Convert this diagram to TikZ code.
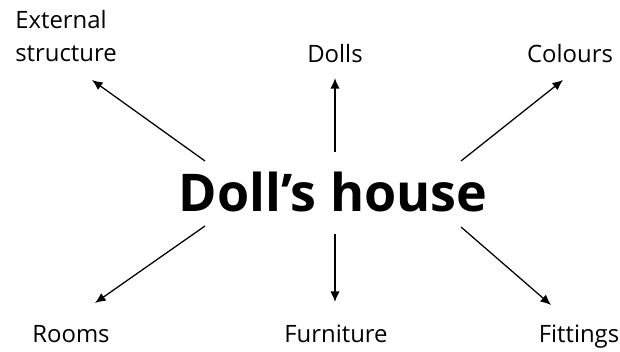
\documentclass[tikz,border=0pt]{standalone}
\usepackage{fontspec}
\setmainfont{Open Sans}
\usetikzlibrary{arrows.meta}

\begin{document}
\begin{tikzpicture}[x=0.025cm,y=-0.025cm,>={Latex[length=7.5pt,width=6.5pt]},
  lbl/.style={font=\fontsize{17}{23.5}\selectfont,inner sep=0pt,anchor=base},
  arr/.style={->,line width=0.9pt}]
\useasboundingbox (0,0) rectangle (620,352);
\node[font=\fontsize{37}{40}\selectfont\bfseries,inner sep=0pt,anchor=base] (house) at (333,212) {Doll’s house};
\node[lbl,anchor=base west,align=left] (ext) at (15,62) {External\\structure};
\node[lbl] (dolls) at (335,63) {Dolls};
\node[lbl] (colours) at (570,63) {Colours};
\node[lbl] (rooms) at (71,343) {Rooms};
\node[lbl] (furn) at (336,343) {Furniture};
\node[lbl] (fitt) at (579,343) {Fittings};
% arrows out of the middle
\draw[arr] ([shift={(-128,-51)}]house.base) -- ([shift={(77,18)}]ext.base west);
\draw[arr] ([shift={(2,-60)}]house.base) -- ([shift={(0,15)}]dolls.base);
\draw[arr] ([shift={(128,-51)}]house.base) -- ([shift={(-7,17)}]colours.base);
\draw[arr] ([shift={(-128,14)}]house.base) -- ([shift={(24,-40)}]rooms.base);
\draw[arr] ([shift={(2,22)}]house.base) -- ([shift={(-1,-41)}]furn.base);
\draw[arr] ([shift={(128,15)}]house.base) -- ([shift={(-28,-38)}]fitt.base);
\end{tikzpicture}
\end{document}
